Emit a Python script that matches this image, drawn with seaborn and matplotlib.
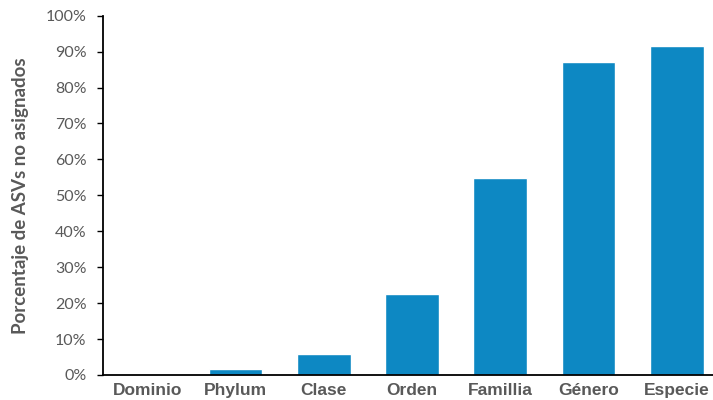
import matplotlib
matplotlib.use("Agg")
import matplotlib.pyplot as plt
from matplotlib.ticker import PercentFormatter, MultipleLocator
import seaborn as sns
import pandas as pd

# Unassigned ASVs per taxonomic rank
rangos = ["Dominio", "Phylum", "Clase", "Orden", "Familia", "Género", "Especie"]
etiquetas = ["Dominio", "Phylum", "Clase", "Orden", "Famillia", "Género", "Especie"]
porcentaje = [0.0, 1.6, 5.8, 22.5, 54.8, 87.1, 91.6]

df = pd.DataFrame({"rango": rangos, "pct": porcentaje})

sns.set_theme(style="white")
plt.rcParams["font.family"] = ["Lato", "DejaVu Sans"]

fig = plt.figure(figsize=(7.13, 4.00), dpi=100)
ax = fig.add_axes([103 / 713, 25 / 400, 618 / 713, 359.3 / 400])

sns.barplot(data=df, x="rango", y="pct", color="#0D88C3", saturation=1,
            width=0.61, ax=ax)

ax.set_xlim(-0.5, len(rangos) - 0.5)
ax.set_ylim(0, 100)
ax.yaxis.set_major_locator(MultipleLocator(10))
ax.yaxis.set_major_formatter(PercentFormatter(decimals=0))

gris = "#595959"
ax.set_xticks(range(len(rangos)))
ax.set_xticklabels(etiquetas, fontsize=12.5, fontweight="bold", color=gris,
                   family=["Liberation Sans", "DejaVu Sans"])
ax.tick_params(axis="x", length=0, pad=6)
ax.tick_params(axis="y", left=True, length=4, width=1, color="black",
               labelsize=11.5, labelcolor=gris, pad=8)

ax.set_xlabel("")
ax.set_ylabel("Porcentaje de ASVs no asignados", fontsize=13.5,
              fontweight="bold", color=gris, labelpad=12)

for side in ("top", "right"):
    ax.spines[side].set_visible(False)
for side in ("left", "bottom"):
    ax.spines[side].set_color("black")
    ax.spines[side].set_linewidth(1.3)

fig.savefig("out.png", dpi=100)
